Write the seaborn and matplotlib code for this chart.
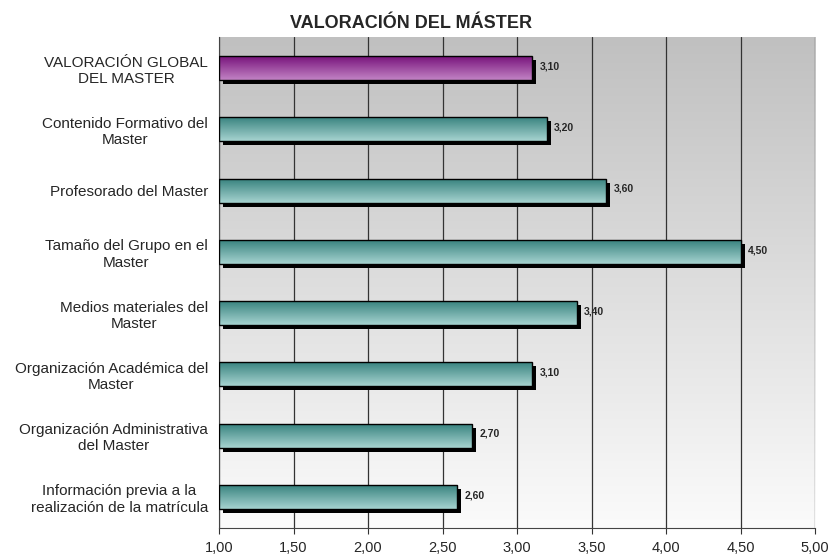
import numpy as np
import pandas as pd
import matplotlib
matplotlib.use('Agg')
import matplotlib.pyplot as plt
import matplotlib.transforms as mtransforms
from matplotlib.patches import Rectangle
from matplotlib.colors import LinearSegmentedColormap
from matplotlib.ticker import FuncFormatter, FixedLocator
import seaborn as sns

# datos del gráfico
categorias = ["VALORACIÓN GLOBAL\nDEL MASTER",
              "Contenido Formativo del\nMaster",
              "Profesorado del Master",
              "Tamaño del Grupo en el\nMaster",
              "Medios materiales del\nMaster",
              "Organización Académica del\nMaster",
              "Organización Administrativa\ndel Master",
              "Información previa a la\nrealización de la matrícula"]
valores = [3.10, 3.20, 3.60, 4.50, 3.40, 3.10, 2.70, 2.60]
titulo = "VALORACIÓN DEL MÁSTER"

sns.set_style("white")
plt.rcParams['font.family'] = ['Liberation Sans', 'DejaVu Sans']

df = pd.DataFrame({"categoria": categorias, "valor": valores})

fig = plt.figure(figsize=(8.31, 5.58), dpi=100)
ax = fig.add_axes([219 / 831, 1 - 527.6 / 558, (815 - 219) / 831, (527.6 - 37.4) / 558])

sns.barplot(data=df, x="valor", y="categoria", orient="h", ax=ax, width=0.39,
            color="white", edgecolor="black", linewidth=1.0, zorder=4)

ax.set_xlim(1, 5)

# fondo degradado
fondo = LinearSegmentedColormap.from_list("fondo", ["#c0c0c0", "#fbfbfb"])
ax.imshow(np.linspace(0, 1, 256).reshape(-1, 1), cmap=fondo, aspect="auto",
          extent=[0, 1, 0, 1], transform=ax.transAxes, zorder=0)

teal = LinearSegmentedColormap.from_list("teal", ["#3a8480", "#a6d3d0"])
morado = LinearSegmentedColormap.from_list("morado", ["#78147c", "#c283c4"])
grad = np.linspace(0, 1, 64).reshape(-1, 1)

sombra = mtransforms.offset_copy(ax.transData, fig=fig, x=4, y=-4, units="dots")

for i, p in enumerate(ax.patches):
    v = valores[i]
    p.set_x(1)
    p.set_width(v - 1)
    p.set_facecolor("none")
    y0, h = p.get_y(), p.get_height()
    ax.add_patch(Rectangle((1, y0), v - 1, h, facecolor="black", edgecolor="none",
                           transform=sombra, zorder=2, clip_on=True))
    cmap = morado if i == 0 else teal
    # eje y invertido: y0 es la parte superior visual
    im = ax.imshow(grad, cmap=cmap, aspect="auto",
                   extent=[1, v, y0 + h, y0], zorder=3)
    im.set_clip_path(p)
    ax.text(v + 0.05, y0 + h / 2 - 0.03, f"{v:.2f}".replace(".", ","), va="center",
            ha="left", fontsize=7.5, fontweight="bold", zorder=5)

ax.set_ylim(len(valores) - 0.5, -0.5)
ax.set_aspect("auto")

ax.xaxis.set_major_locator(FixedLocator(np.arange(1, 5.01, 0.5)))
ax.xaxis.set_major_formatter(FuncFormatter(lambda x, pos: f"{x:.2f}".replace(".", ",")))
ax.grid(axis="x", color="#333333", linewidth=0.9, zorder=1)
ax.set_axisbelow(True)

# marcas del eje y entre categorías
ax.set_yticks(np.arange(len(valores)))
ax.set_yticklabels(categorias, fontsize=11, multialignment="center", linespacing=1.2)
ax.tick_params(axis="y", length=0, pad=8)
ax.set_yticks(np.arange(-0.5, len(valores), 1), minor=True)
ax.tick_params(axis="y", which="minor", length=4, color="#333333")
ax.tick_params(axis="x", length=4, color="#333333", labelsize=10.5, pad=6, direction="out")
ax.xaxis.set_ticks_position("bottom")

ax.set_xlabel("")
ax.set_ylabel("")
for s in ["top", "right"]:
    ax.spines[s].set_visible(False)
ax.spines["left"].set_color("#444444")
ax.spines["bottom"].set_color("#444444")

fig.text(411 / 831, 1 - 23 / 558, titulo, ha="center", va="center",
         fontsize=13, fontweight="bold")

plt.savefig("out.png", dpi=100)
